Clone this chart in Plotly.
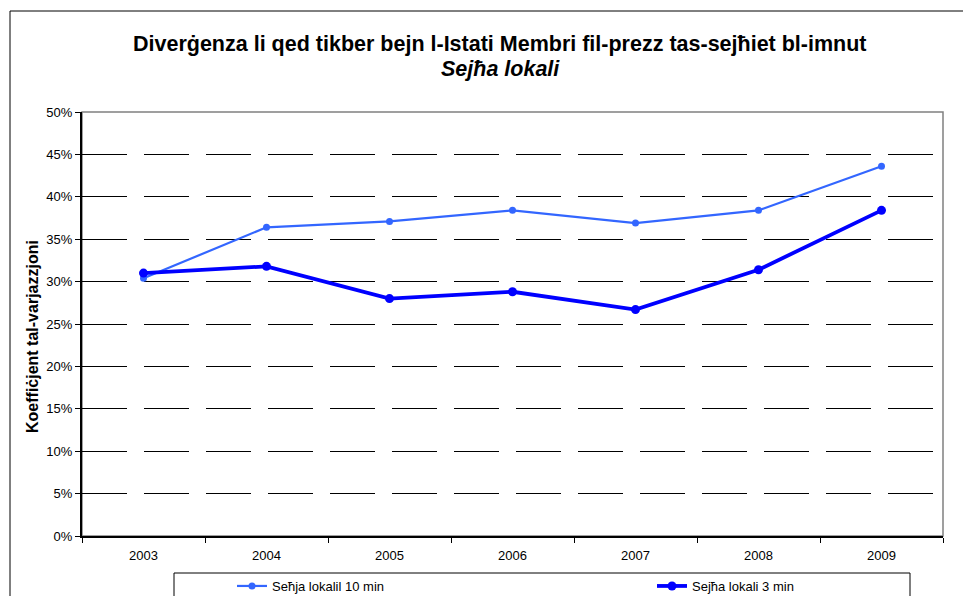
import plotly.graph_objects as go

years = ["2003", "2004", "2005", "2006", "2007", "2008", "2009"]
calls_10min = [0.304, 0.364, 0.371, 0.384, 0.369, 0.384, 0.436]
calls_3min = [0.310, 0.318, 0.280, 0.288, 0.267, 0.314, 0.384]
name_10 = "Seħja lokalil 10 min"
name_3 = "Sejħa lokali 3 min"
title_main = "Diverġenza li qed tikber bejn l-Istati Membri fil-prezz tas-sejħiet bl-imnut"
title_sub = "Sejħa lokali"
y_title = "Koeffiċjent tal-varjazzjoni"

# page has an 8px body margin; figure coordinates = screen coordinates - 8
OFF = 8
W, H = 971 - OFF, 596 - OFF
L, R, T, B = 82 - OFF, 28, 112 - OFF, 60
PW, PH = W - L - R, H - T - B

def px(x):
    """screen x -> paper x"""
    return (x - OFF - L) / PW

def py(y):
    """screen y -> paper y"""
    return (H - B - (y - OFF)) / PH

FONT = "Liberation Sans, Arial, sans-serif"

fig = go.Figure()
fig.add_trace(go.Scatter(
    x=years, y=calls_10min, name=name_10, mode="lines+markers",
    line=dict(color="#3366FF", width=2.2), marker=dict(size=7, color="#3366FF"),
    legend="legend"))
fig.add_trace(go.Scatter(
    x=years, y=calls_3min, name=name_3, mode="lines+markers",
    line=dict(color="#0000FF", width=3.8), marker=dict(size=9, color="#0000FF"),
    legend="legend2"))

shapes = [
    dict(type="rect", xref="paper", yref="paper", x0=px(10), x1=1.3, y0=-0.6, y1=py(11),
         line=dict(color="black", width=1), layer="below"),
    dict(type="rect", xref="paper", yref="paper", x0=0, x1=1, y0=0, y1=1,
         line=dict(color="#808080", width=1.5), layer="below"),
    dict(type="rect", xref="paper", yref="paper", x0=px(174), x1=px(910), y0=-0.6, y1=py(573),
         line=dict(color="black", width=1), layer="below"),
]

annotations = [
    dict(text="<b>" + title_main + "</b>", xref="paper", yref="paper",
         x=px(500), y=py(44), xanchor="center", yanchor="middle", showarrow=False,
         font=dict(family=FONT, size=21.5, color="black")),
    dict(text="<b><i>" + title_sub + "</i></b>", xref="paper", yref="paper",
         x=px(500), y=py(69), xanchor="center", yanchor="middle", showarrow=False,
         font=dict(family=FONT, size=21.5, color="black")),
    dict(text="<b>" + y_title + "</b>", xref="paper", yref="paper",
         x=px(32), y=py(337), xanchor="center", yanchor="middle", showarrow=False,
         textangle=-90, font=dict(family=FONT, size=16, color="black")),
]

fig.update_layout(
    width=W, height=H,
    margin=dict(l=L, r=R, t=T, b=B, autoexpand=False),
    paper_bgcolor="white", plot_bgcolor="white",
    font=dict(family=FONT, size=13, color="black"),
    showlegend=True,
    legend=dict(orientation="h", x=px(232), xanchor="left", y=py(586), yanchor="middle",
                bgcolor="rgba(0,0,0,0)", font=dict(size=13)),
    legend2=dict(orientation="h", x=px(652), xanchor="left", y=py(586), yanchor="middle",
                 bgcolor="rgba(0,0,0,0)", font=dict(size=13)),
    shapes=shapes,
    annotations=annotations,
    xaxis=dict(type="category", range=[-0.5, 6.5], showgrid=False,
               showline=True, linecolor="black", linewidth=1.5,
               ticks="outside", tickson="boundaries", ticklen=5, tickcolor="black",
               ticklabelstandoff=7,
               tickfont=dict(size=13), automargin=False),
    yaxis=dict(range=[0, 0.5], dtick=0.05, tickformat=".0%",
               showline=True, linecolor="black", linewidth=2,
               ticks="outside", ticklen=5, tickcolor="black",
               showgrid=True, gridcolor="black", gridwidth=1, griddash="45px,17px",
               zeroline=False, tickfont=dict(size=13), automargin=False),
)

fig.write_html("out.html")
